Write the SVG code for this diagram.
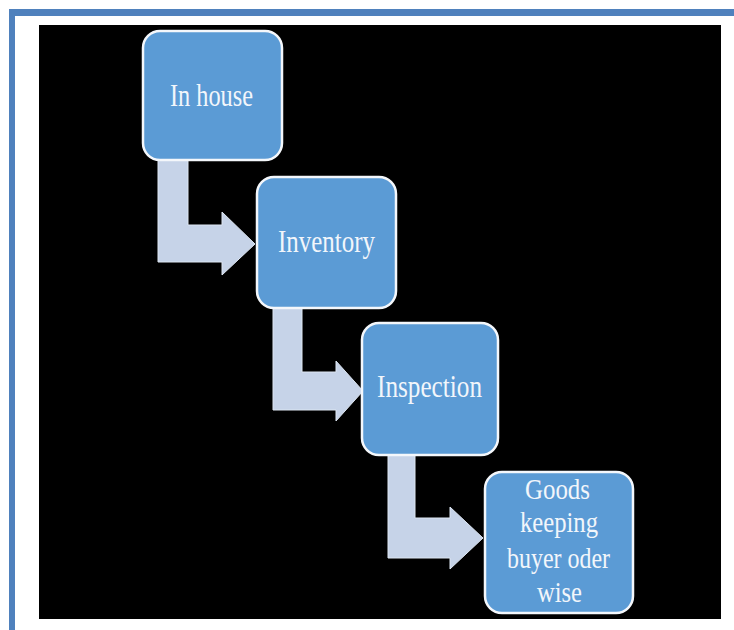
<svg xmlns="http://www.w3.org/2000/svg" width="734" height="630" viewBox="0 0 734 630">
<style>
.frame{fill:#4f81bd}
.box{fill:#5b9bd5;stroke:#f4f7fb;stroke-width:2.5}
.arrow{fill:#c6d3e8;stroke:#dde6f2;stroke-width:1}
.lbl{font-family:"Liberation Serif","Times New Roman",serif;fill:#f2f6fb;text-anchor:middle}
.l1{font-size:32px}
.l2{font-size:29px}
</style>
<rect x="0" y="0" width="734" height="630" fill="#ffffff"/>
<rect class="frame" x="9" y="9" width="725" height="7"/>
<rect class="frame" x="9" y="9" width="6" height="621"/>
<rect x="39" y="25" width="682" height="594" fill="#000000"/>
<g id="connectors">
<path class="arrow" d="M158,158 L188,158 L188,225 L222,225 L222,212 L255,244 L222,275 L222,262 L158,262 Z"/>
<path class="arrow" d="M273,306 L302,306 L302,372 L336,372 L336,361 L363,391 L336,421 L336,410 L273,410 Z"/>
<path class="arrow" d="M388,453 L415,453 L415,518 L450,518 L450,507 L483,538 L450,569 L450,558 L388,558 Z"/>
</g>
<g id="node-inhouse">
<rect class="box" x="143" y="31" width="139" height="129" rx="17"/>
<text class="lbl l1" x="211.5" y="106" textLength="83" lengthAdjust="spacingAndGlyphs">In house</text>
</g>
<g id="node-inventory">
<rect class="box" x="257" y="177" width="139" height="131" rx="17"/>
<text class="lbl l1" x="326.5" y="252" textLength="97" lengthAdjust="spacingAndGlyphs">Inventory</text>
</g>
<g id="node-inspection">
<rect class="box" x="362" y="323" width="136" height="132" rx="17"/>
<text class="lbl l1" x="429.5" y="397" textLength="105" lengthAdjust="spacingAndGlyphs">Inspection</text>
</g>
<g id="node-goods">
<rect class="box" x="485" y="472" width="148" height="141" rx="17"/>
<text class="lbl l2" x="557.5" y="499" textLength="65" lengthAdjust="spacingAndGlyphs">Goods</text>
<text class="lbl l2" x="559" y="532" textLength="78" lengthAdjust="spacingAndGlyphs">keeping</text>
<text class="lbl l2" x="558.5" y="568" textLength="103" lengthAdjust="spacingAndGlyphs">buyer oder</text>
<text class="lbl l2" x="559.5" y="602" textLength="45" lengthAdjust="spacingAndGlyphs">wise</text>
</g>
</svg>
